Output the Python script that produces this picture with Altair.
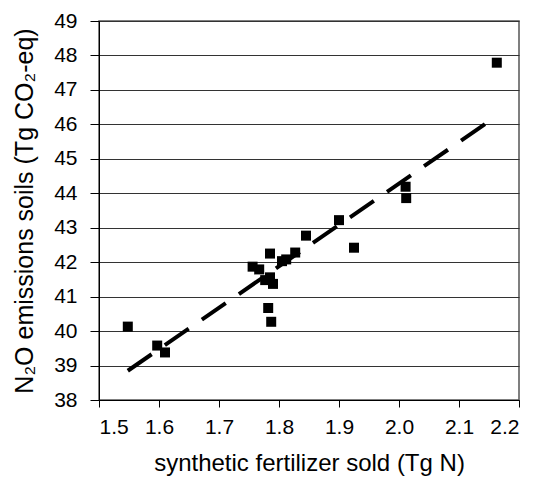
import altair as alt
import pandas as pd

fertilizer = [2.163, 2.011, 2.012, 1.900, 1.925, 1.845, 1.827, 1.805, 1.812, 1.785,
              1.756, 1.767, 1.785, 1.777, 1.790, 1.782, 1.787, 1.548, 1.597, 1.610]
emissions = [47.79, 44.19, 43.86, 43.22, 42.42, 42.77, 42.28, 42.03, 42.08, 42.25,
             41.87, 41.79, 41.56, 41.48, 41.37, 40.67, 40.27, 40.13, 39.58, 39.38]
x_ticks = [1.5, 1.6, 1.7, 1.8, 1.9, 2.0, 2.1, 2.2]
y_ticks = list(range(38, 50))

df = pd.DataFrame({"x": fertilizer, "y": emissions})

FONT = "Liberation Sans"

xscale = alt.Scale(domain=[1.5, 2.2], nice=False, zero=False)
yscale = alt.Scale(domain=[38, 49], nice=False, zero=False)

xaxis = alt.Axis(title="synthetic fertilizer sold (Tg N)", values=x_ticks,
                 format=".1f", grid=False, tickSize=7, tickColor="black", domainColor="black",
                 labelFontSize=21, titleFontSize=24, labelFont=FONT, titleFont=FONT,
                 labelColor="black", titleColor="black", titleFontWeight="normal",
                 labelOverlap=False, labelPadding=9, titlePadding=14)
yaxis = alt.Axis(title="N₂O emissions soils (Tg CO₂-eq)", values=y_ticks, tickCount=12,
                 grid=True, gridColor="#333", gridWidth=1, tickSize=9, tickColor="black",
                 domainColor="black", labelFontSize=21, titleFontSize=25, labelFont=FONT,
                 titleFont=FONT, labelColor="black", titleColor="black",
                 titleFontWeight="normal", labelOverlap=False, labelPadding=13,
                 titlePadding=16)

base = alt.Chart(df)

points = base.mark_square(size=100, color="black", opacity=1).encode(
    x=alt.X("x:Q", scale=xscale, axis=xaxis),
    y=alt.Y("y:Q", scale=yscale, axis=yaxis),
)

trend = base.transform_regression("x", "y").mark_line(
    color="black", strokeWidth=4, strokeDash=[29, 16]
).encode(x=alt.X("x:Q", scale=xscale, axis=xaxis), y=alt.Y("y:Q", scale=yscale, axis=yaxis))

chart = (trend + points).properties(
    width=420, height=379,
    autosize=alt.AutoSizeParams(type="none"),
    padding={"left": 91, "top": 13, "right": 8, "bottom": 84},
).configure_view(stroke="#555", strokeWidth=1.5)

chart.save("out.html", embed_options={"renderer": "svg", "actions": False})
